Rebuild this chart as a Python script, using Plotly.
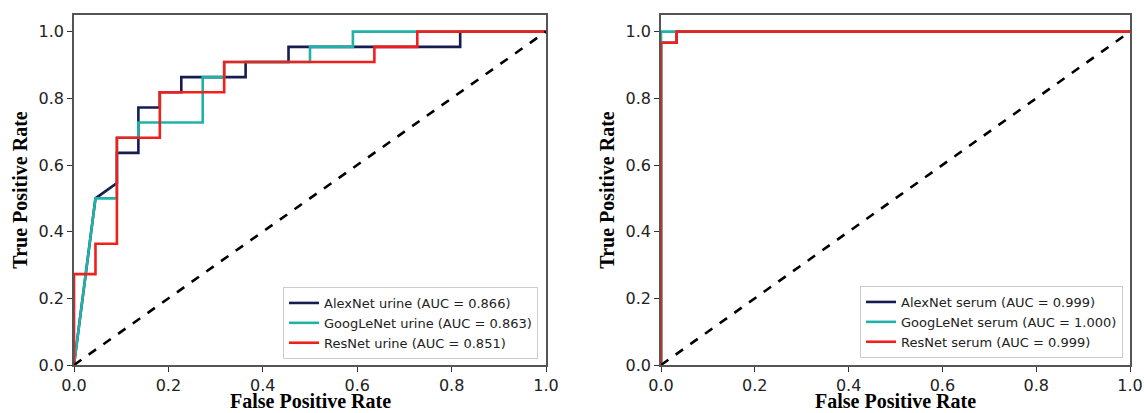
import plotly.graph_objects as go

# ---- data ----
# Left panel: urine
alex_urine_fpr = [0, 0.0455, 0.0909, 0.0909, 0.1364, 0.1364, 0.1818, 0.1818, 0.2273, 0.2273, 0.3636, 0.3636, 0.4545, 0.4545, 0.8182, 0.8182, 1.0]
alex_urine_tpr = [0, 0.5, 0.5455, 0.6364, 0.6364, 0.7727, 0.7727, 0.8182, 0.8182, 0.8636, 0.8636, 0.9091, 0.9091, 0.9545, 0.9545, 1.0, 1.0]
goog_urine_fpr = [0, 0.0455, 0.0909, 0.0909, 0.1364, 0.1364, 0.2727, 0.2727, 0.3182, 0.3182, 0.5, 0.5, 0.5909, 0.5909, 1.0]
goog_urine_tpr = [0, 0.5, 0.5, 0.6818, 0.6818, 0.7273, 0.7273, 0.8636, 0.8636, 0.9091, 0.9091, 0.9545, 0.9545, 1.0, 1.0]
res_urine_fpr = [0, 0, 0.0455, 0.0455, 0.0909, 0.0909, 0.1818, 0.1818, 0.3182, 0.3182, 0.6364, 0.6364, 0.7273, 0.7273, 1.0]
res_urine_tpr = [0, 0.2727, 0.2727, 0.3636, 0.3636, 0.6818, 0.6818, 0.8182, 0.8182, 0.9091, 0.9091, 0.9545, 0.9545, 1.0, 1.0]

# Right panel: serum
alex_serum_fpr = [0, 0, 0.0333, 0.0333, 1.0]
alex_serum_tpr = [0, 0.9667, 0.9667, 1.0, 1.0]
goog_serum_fpr = [0, 0, 1.0]
goog_serum_tpr = [0, 1.0, 1.0]
res_serum_fpr = [0, 0, 0.0333, 0.0333, 1.0]
res_serum_tpr = [0, 0.9667, 0.9667, 1.0, 1.0]

chance = [0, 1]

urine_names = ["AlexNet urine (AUC = 0.866)", "GoogLeNet urine (AUC = 0.863)", "ResNet urine (AUC = 0.851)"]
serum_names = ["AlexNet serum (AUC = 0.999)", "GoogLeNet serum (AUC = 1.000)", "ResNet serum (AUC = 0.999)"]
tick_vals = [0, 0.2, 0.4, 0.6, 0.8, 1.0]
tick_text = ["0.0", "0.2", "0.4", "0.6", "0.8", "1.0"]
x_title = "False Positive Rate"
y_title = "True Positive Rate"

NAVY = "#161c52"
TEAL = "#20b2aa"
RED = "#f0201c"
LW = 2.6

fig = go.Figure()

def add_panel(xs, ys, names, xa, ya, leg):
    for x, y, n, c in zip(xs, ys, names, [NAVY, TEAL, RED]):
        fig.add_trace(go.Scatter(x=x, y=y, mode="lines", name=n,
                                 line=dict(color=c, width=LW),
                                 xaxis=xa, yaxis=ya, legend=leg))
    fig.add_trace(go.Scatter(x=chance, y=chance, mode="lines", showlegend=False,
                             line=dict(color="black", width=LW, dash="dash"),
                             xaxis=xa, yaxis=ya))

add_panel([alex_urine_fpr, goog_urine_fpr, res_urine_fpr],
          [alex_urine_tpr, goog_urine_tpr, res_urine_tpr], urine_names, "x", "y", "legend")
add_panel([alex_serum_fpr, goog_serum_fpr, res_serum_fpr],
          [alex_serum_tpr, goog_serum_tpr, res_serum_tpr], serum_names, "x2", "y2", "legend2")

W, H = 1144, 413
ybot = 1 - 365 / H
ytop = 1 - 15 / H
dom1 = [74 / W, 546 / W]
dom2 = [661 / W, 1130 / W]

tickfont = dict(family="DejaVu Sans", size=16, color="#222")
titlefont = dict(family="Liberation Serif", size=20, color="black", weight="bold")

def xaxis(dom, anchor):
    return dict(domain=dom, range=[0, 1], tickvals=tick_vals, ticktext=tick_text,
                ticks="outside", ticklen=5, tickwidth=1.2, tickcolor="#333",
                showline=True, linecolor="#555", linewidth=1.5, mirror=True,
                showgrid=False, zeroline=False, tickfont=tickfont, anchor=anchor,
                automargin=False)

def yaxis(anchor):
    return dict(domain=[ybot, ytop], range=[0, 1.05], tickvals=tick_vals, ticktext=tick_text,
                ticks="outside", ticklen=5, tickwidth=1.2, tickcolor="#333",
                showline=True, linecolor="#555", linewidth=1.5, mirror=True,
                showgrid=False, zeroline=False, tickfont=tickfont, anchor=anchor,
                title=dict(text=y_title, font=titlefont, standoff=6),
                automargin=False)

legfont = dict(family="DejaVu Sans", size=13, color="#222")
fig.update_layout(
    width=W, height=H,
    margin=dict(l=0, r=0, t=0, b=0),
    paper_bgcolor="white", plot_bgcolor="white",
    xaxis=xaxis(dom1, "y"),
    yaxis=yaxis("x"),
    xaxis2=xaxis(dom2, "y2"),
    yaxis2=yaxis("x2"),
    legend=dict(x=538 / W, y=1 - 359 / H, xanchor="right", yanchor="bottom",
                bgcolor="white", bordercolor="#cccccc", borderwidth=1, font=legfont,
                tracegroupgap=0),
    legend2=dict(x=1123 / W, y=1 - 358 / H, xanchor="right", yanchor="bottom",
                 bgcolor="white", bordercolor="#cccccc", borderwidth=1, font=legfont,
                 tracegroupgap=0),
    showlegend=True,
)

for dom in (dom1, dom2):
    fig.add_annotation(text=x_title, x=(dom[0] + dom[1]) / 2, y=0, xref="paper", yref="paper",
                       xanchor="center", yanchor="bottom", showarrow=False,
                       font=titlefont, borderpad=0)

fig.write_html("out.html", config={"displayModeBar": False},
               post_script="document.body.style.margin='0';document.body.style.overflow='hidden';")
